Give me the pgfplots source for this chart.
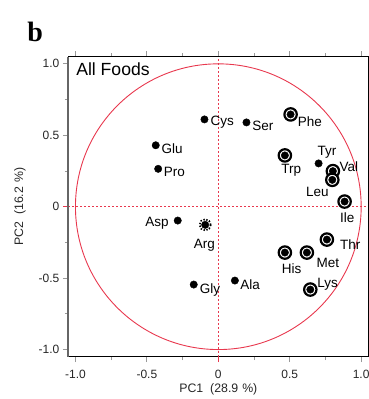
\documentclass[border=0pt]{standalone}
\usepackage{pgfplots}
\usepackage{pgfplotstable}
\pgfplotsset{compat=1.18}
\usepackage{fontspec}
\setmainfont{Liberation Sans}
\newfontfamily\serifb{Liberation Serif}
\definecolor{cred}{RGB}{232,56,78}

\pgfplotstableread{
x y
-0.097 0.611
0.197 0.590
-0.438 0.430
-0.421 0.265
0.702 0.303
-0.284 -0.097
-0.172 -0.545
0.116 -0.517
}\plain
\pgfplotstableread{
x y
0.506 0.646
0.466 0.359
0.802 0.249
0.798 0.188
0.884 0.036
0.760 -0.230
0.466 -0.321
0.620 -0.321
0.644 -0.580
}\ringed
\pgfplotstableread{
x y
-0.092 -0.127
}\dotring
\pgfplotstableread{
x y label
0.028 0.600 Cys
0.312 0.567 Ser
0.641 0.592 Phe
-0.323 0.405 Glu
-0.307 0.248 Pro
0.511 0.265 Trp
0.761 0.395 Tyr
0.914 0.277 Val
0.693 0.106 Leu
0.903 -0.076 Ile
-0.429 -0.104 Asp
-0.097 -0.260 Arg
0.924 -0.263 Thr
0.514 -0.431 His
0.767 -0.391 Met
-0.058 -0.575 Gly
0.222 -0.547 Ala
0.765 -0.531 Lys
}\labels

\begin{document}
\begin{tikzpicture}
\begin{axis}[
  scale only axis, width=300pt, height=300pt,
  xmin=-1.05, xmax=1.05, ymin=-1.05, ymax=1.05,
  xtick={-1,-0.5,0,0.5,1}, ytick={-1,-0.5,0,0.5,1},
  xticklabels={-1.0,-0.5,0,0.5,1.0},
  yticklabels={-1.0,-0.5,0,0.5,1.0},
  minor tick num=1,
  tick align=outside,
  major tick length=5.5pt, minor tick length=3.5pt,
  every tick/.style={black!40, line width=1.1pt},
  minor tick style={black!40, line width=0.9pt},
  axis line style={black, line width=0.9pt},
  ticklabel style={font=\fontsize{12}{12}\selectfont, text=black!85},
  xticklabel style={yshift=-4pt},
  xlabel={PC1\hspace{7pt}(28.9\hspace{4pt}\%)},
  ylabel={PC2\hspace{7pt}(16.2\hspace{4pt}\%)},
  label style={font=\fontsize{12.3}{12.3}\selectfont, text=black!85},
  xlabel style={at={(axis description cs:0.5,-0.12)}, anchor=base},
  ylabel style={at={(axis description cs:-0.151,0.5)}, anchor=base},
  clip=false,
]
\draw[cred, line width=0.9pt] (axis cs:0,0) circle[radius=1];
\draw[cred, line width=1pt, dash pattern=on 2pt off 2pt] (axis cs:0,-1.05) -- (axis cs:0,1.05);
\draw[cred, line width=1pt, dash pattern=on 2pt off 2pt] (axis cs:-1.05,0) -- (axis cs:1.05,0);
\draw[cred, line width=1.3pt] (axis cs:0,-1.05) -- ([yshift=-5.5pt]axis cs:0,-1.05);
\draw[cred, line width=1.3pt] (axis cs:-1.05,0) -- ([xshift=-5.5pt]axis cs:-1.05,0);
\draw[black!60, line width=1.8pt] (axis description cs:0,0) -- (axis description cs:0,1);

\addplot[only marks, mark=*, mark size=6.2pt, mark options={draw=black, fill=white, line width=2.2pt, solid}] table[x=x,y=y] {\ringed};
\addplot[only marks, mark=*, mark size=3.7pt, mark options={draw=none, fill=black}] table[x=x,y=y] {\ringed};
\addplot[only marks, mark=*, mark size=3.7pt, mark options={draw=none, fill=black}] table[x=x,y=y] {\plain};
\addplot[only marks, mark=o, mark size=5.6pt, mark options={draw=black, line width=1.7pt, dash pattern=on 1.4pt off 1.6pt}] table[x=x,y=y] {\dotring};
\addplot[only marks, mark=*, mark size=3.7pt, mark options={draw=none, fill=black}] table[x=x,y=y] {\dotring};

\addplot[only marks, mark=none, nodes near coords, point meta=explicit symbolic,
  every node near coord/.append style={anchor=center, inner sep=0pt, font=\fontsize{13.5}{13.5}\selectfont, text height=9.7pt, text depth=0pt}]
  table[x=x,y=y,meta=label] {\labels};

\node[anchor=base west, inner sep=0pt, font=\fontsize{17.6}{17.6}\selectfont] at (axis description cs:0.026,0.936) {All Foods};
\node[anchor=base west, inner sep=0pt, font=\serifb\bfseries\fontsize{28}{28}\selectfont] at (axis description cs:-0.137,1.05) {b};

\coordinate (bbsw) at (axis description cs:-0.2277,-0.141);
\coordinate (bbne) at (axis description cs:1.0023,1.189);
\end{axis}
\pgfresetboundingbox
\path[use as bounding box] (bbsw) rectangle (bbne);
\end{tikzpicture}
\end{document}
